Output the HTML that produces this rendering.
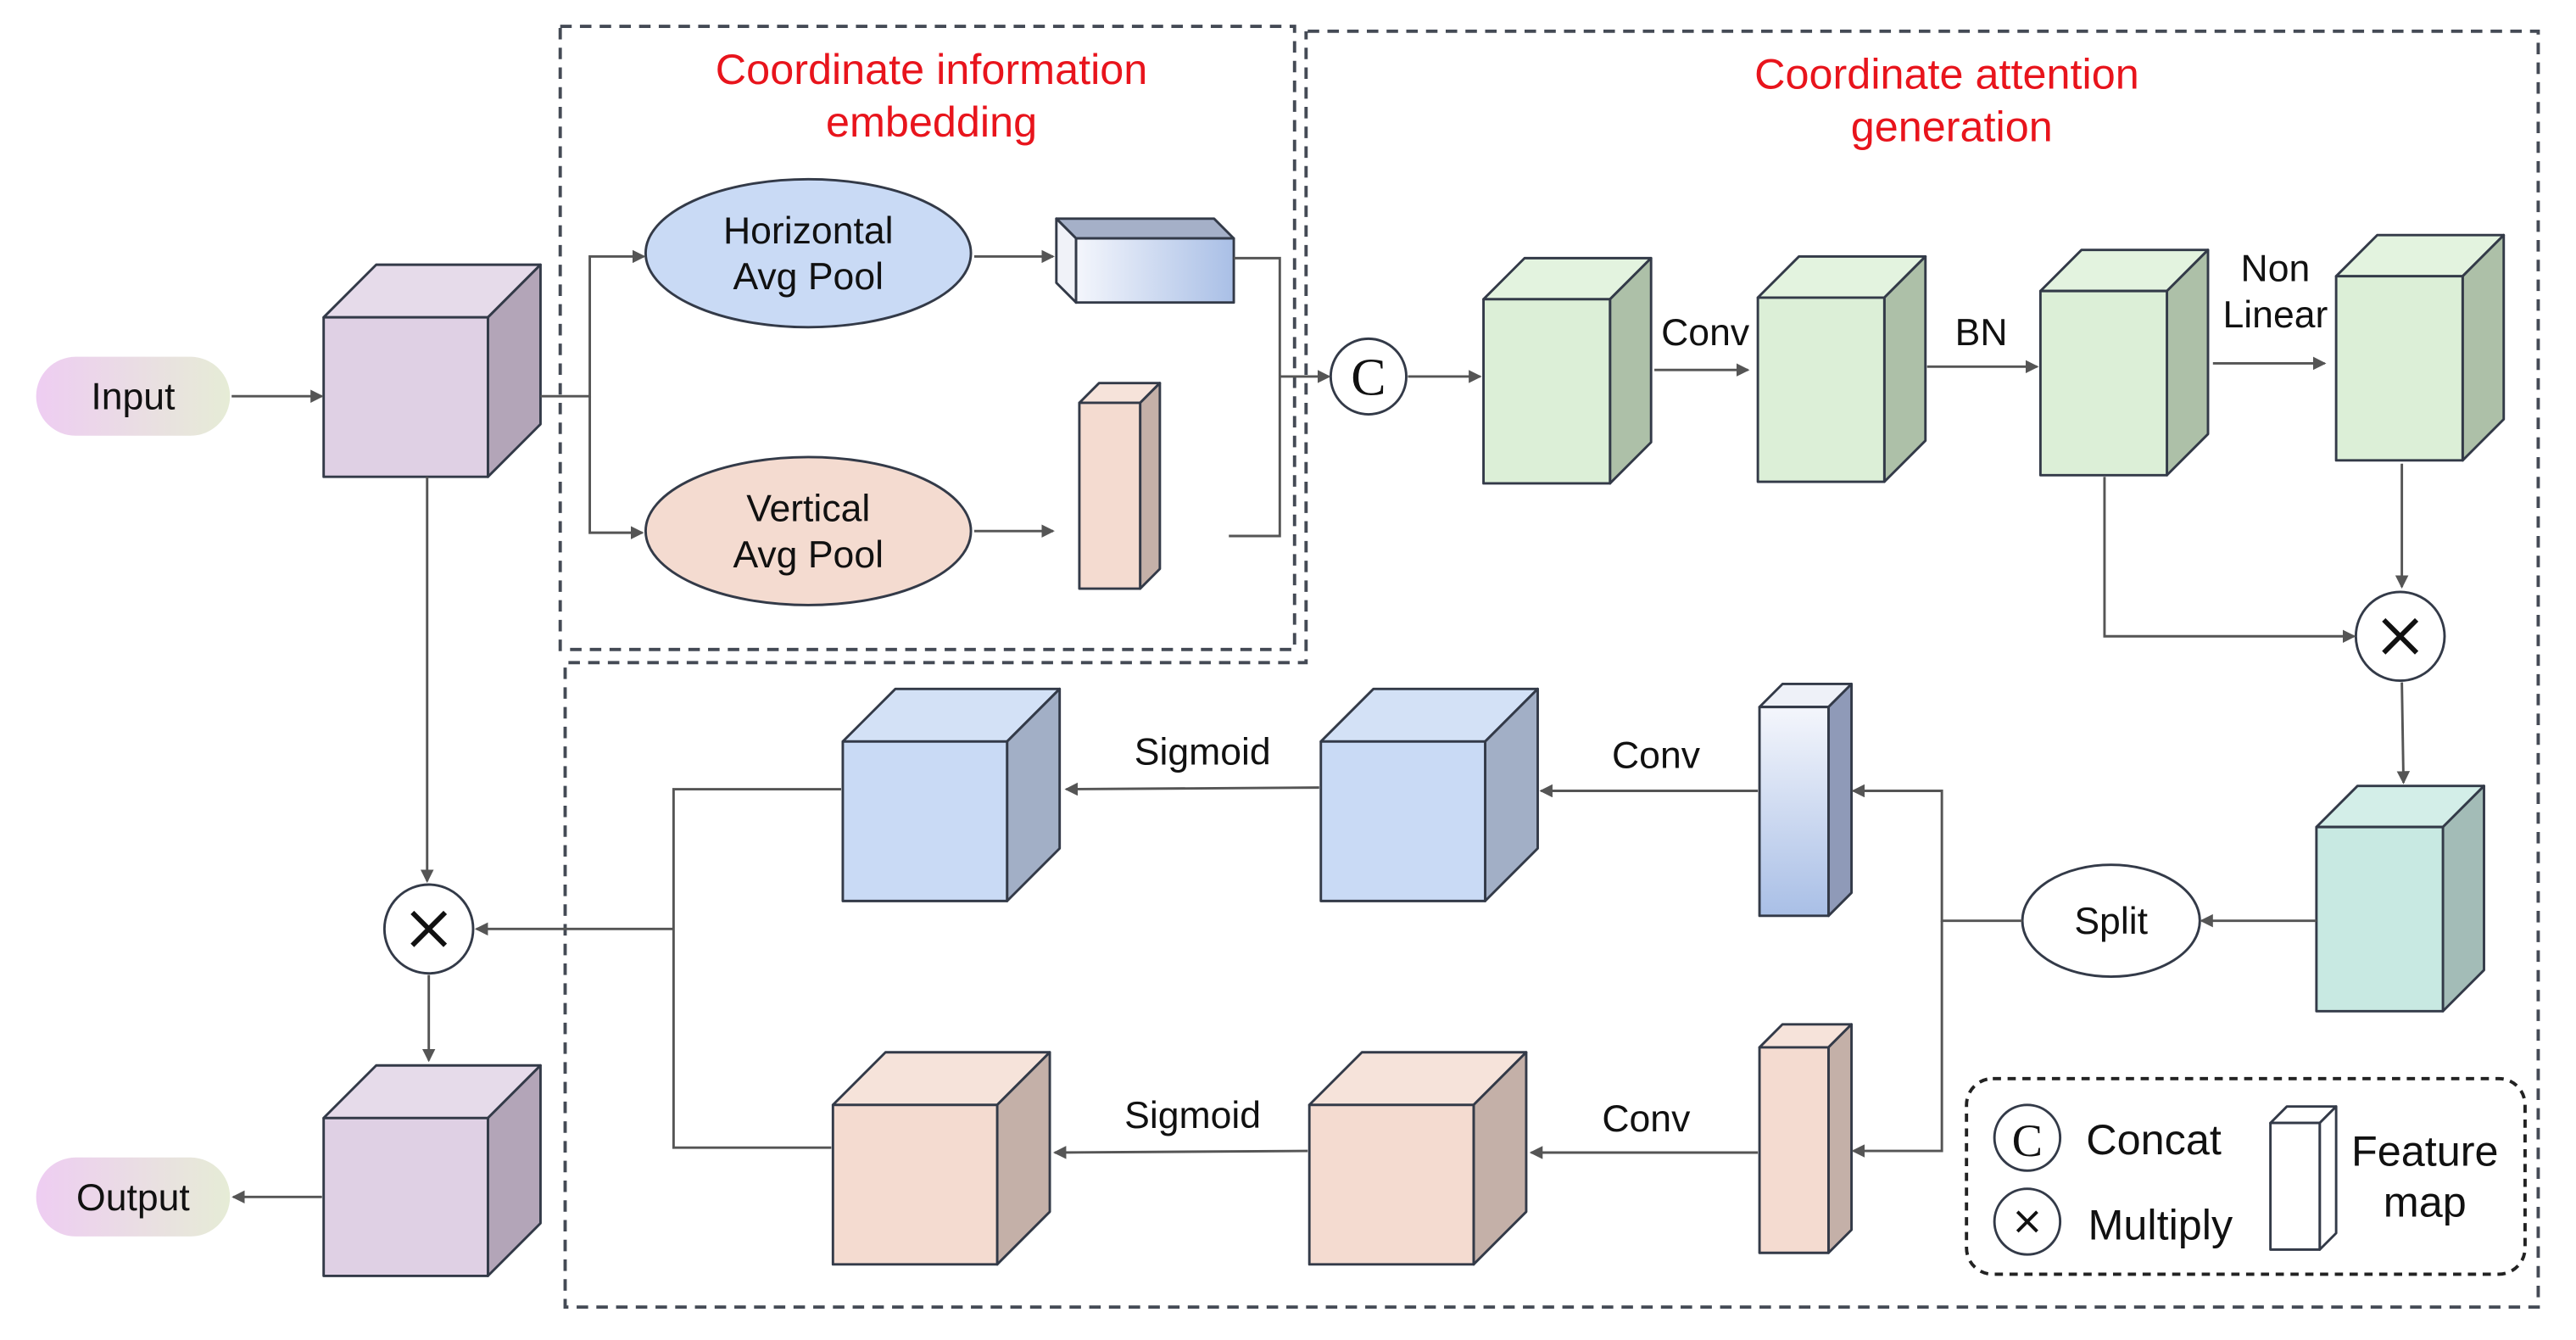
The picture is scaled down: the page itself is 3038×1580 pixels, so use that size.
<!DOCTYPE html>
<html><head><meta charset="utf-8"><style>html,body{margin:0;padding:0;background:#fff}svg{display:block}</style></head>
<body>
<svg width="3038" height="1580" viewBox="0 0 1568 815" preserveAspectRatio="none" xmlns="http://www.w3.org/2000/svg" font-family="'Liberation Sans', 'DejaVu Sans', sans-serif">
<defs>
<marker id="a" markerWidth="8" markerHeight="8" refX="7" refY="4" orient="auto" markerUnits="userSpaceOnUse"><path d="M0,0 L8,4 L0,8 z" fill="#555"/></marker>
<linearGradient id="pill" x1="0" x2="1"><stop offset="0" stop-color="#eecdf2"/><stop offset="1" stop-color="#e6ecd6"/></linearGradient>
<linearGradient id="hb" x1="0" x2="1"><stop offset="0" stop-color="#f4f6fc"/><stop offset="1" stop-color="#a9bfe6"/></linearGradient>
<linearGradient id="vb" x1="0" y1="0" x2="0" y2="1"><stop offset="0" stop-color="#f4f6fc"/><stop offset="1" stop-color="#a9bfe6"/></linearGradient>
</defs>
<g fill="none" stroke="#444a55" stroke-width="2" stroke-dasharray="7,5">
<rect x="341" y="16" width="447" height="379"/>
<path d="M796,19 H1545 V795 H344 V403 H795 V19"/>
<rect x="1197" y="656" width="340" height="119" rx="16" stroke="#222" stroke-dasharray="5,4"/>
</g>
<g font-size="26" fill="#e8141c" text-anchor="middle">
<text x="567" y="51">Coordinate information</text><text x="567" y="83">embedding</text>
<text x="1185" y="54">Coordinate attention</text><text x="1188" y="86">generation</text>
</g>
<g stroke="#333a48" stroke-width="1.5" stroke-linejoin="round">
<g fill="#dfd0e4"><path d="M197,193 L229,161 L329,161 L297,193z" fill="#e6dbea"/><path d="M297,193 L329,161 L329,258 L297,290z" fill="#b3a5b8"/><rect x="197" y="193" width="100" height="97"/></g>
<g fill="#dfd0e4"><path d="M197,680 L229,648 L329,648 L297,680z" fill="#e6dbea"/><path d="M297,680 L329,648 L329,744 L297,776z" fill="#b3a5b8"/><rect x="197" y="680" width="100" height="96"/></g>
<g fill="#dcefd7"><path d="M903,182 L928,157 L1005,157 L980,182z" fill="#e3f3df"/><path d="M980,182 L1005,157 L1005,269 L980,294z" fill="#adc0a8"/><rect x="903" y="182" width="77" height="112"/></g>
<g fill="#dcefd7"><path d="M1070,181 L1095,156 L1172,156 L1147,181z" fill="#e3f3df"/><path d="M1147,181 L1172,156 L1172,268 L1147,293z" fill="#adc0a8"/><rect x="1070" y="181" width="77" height="112"/></g>
<g fill="#dcefd7"><path d="M1242,177 L1267,152 L1344,152 L1319,177z" fill="#e3f3df"/><path d="M1319,177 L1344,152 L1344,264 L1319,289z" fill="#adc0a8"/><rect x="1242" y="177" width="77" height="112"/></g>
<g fill="#dcefd7"><path d="M1422,168 L1447,143 L1524,143 L1499,168z" fill="#e3f3df"/><path d="M1499,168 L1524,143 L1524,255 L1499,280z" fill="#adc0a8"/><rect x="1422" y="168" width="77" height="112"/></g>
<g fill="#c8e9e2"><path d="M1410,503 L1435,478 L1512,478 L1487,503z" fill="#d3eee8"/><path d="M1487,503 L1512,478 L1512,590 L1487,615z" fill="#a3bcb7"/><rect x="1410" y="503" width="77" height="112"/></g>
<g fill="#c9daf5"><path d="M513,451 L545,419 L645,419 L613,451z" fill="#d3e1f6"/><path d="M613,451 L645,419 L645,516 L613,548z" fill="#a2afc6"/><rect x="513" y="451" width="100" height="97"/></g>
<g fill="#c9daf5"><path d="M804,451 L836,419 L936,419 L904,451z" fill="#d3e1f6"/><path d="M904,451 L936,419 L936,516 L904,548z" fill="#a2afc6"/><rect x="804" y="451" width="100" height="97"/></g>
<g fill="#f4dbd0"><path d="M507,672 L539,640 L639,640 L607,672z" fill="#f6e3da"/><path d="M607,672 L639,640 L639,737 L607,769z" fill="#c4b0a8"/><rect x="507" y="672" width="100" height="97"/></g>
<g fill="#f4dbd0"><path d="M797,672 L829,640 L929,640 L897,672z" fill="#f6e3da"/><path d="M897,672 L929,640 L929,737 L897,769z" fill="#c4b0a8"/><rect x="797" y="672" width="100" height="97"/></g>
<g fill="url(#vb)"><path d="M1071,430 L1085,416 L1127,416 L1113,430z" fill="#eef1f8"/><path d="M1113,430 L1127,416 L1127,543 L1113,557z" fill="#8f9ab8"/><rect x="1071" y="430" width="42" height="127"/></g>
<g fill="#f4dbd0"><path d="M1071,637 L1085,623 L1127,623 L1113,637z" fill="#f6e3da"/><path d="M1113,637 L1127,623 L1127,748 L1113,762z" fill="#c4b0a8"/><rect x="1071" y="637" width="42" height="125"/></g>
<g fill="url(#hb)"><path d="M655,145 L643,133 L739,133 L751,145z" fill="#a5b0c8"/><path d="M655,145 L643,133 L643,172 L655,184z" fill="#f0f2f8"/><rect x="655" y="145" width="96" height="39"/></g>
<g fill="#f4dbd0"><path d="M657,245 L669,233 L706,233 L694,245z" fill="#f6e3da"/><path d="M694,245 L706,233 L706,346 L694,358z" fill="#c4b0a8"/><rect x="657" y="245" width="37" height="113"/></g>
<g fill="#fff"><path d="M1382,683 L1392,673 L1422,673 L1412,683z"/><path d="M1412,683 L1422,673 L1422,750 L1412,760z"/><rect x="1382" y="683" width="30" height="77"/></g>
<ellipse cx="492" cy="154" rx="99" ry="45" fill="#c9daf5"/>
<ellipse cx="492" cy="323" rx="99" ry="45" fill="#f4dbd0"/>
<ellipse cx="1285" cy="560" rx="54" ry="34" fill="#fff"/>
<circle cx="833" cy="229" r="23" fill="#fff"/>
<circle cx="1461" cy="387" r="27" fill="#fff"/>
<circle cx="261" cy="565" r="27" fill="#fff"/>
<circle cx="1234" cy="692" r="20" fill="#fff"/>
<circle cx="1234" cy="743" r="20" fill="#fff"/>
</g>
<rect x="22" y="217" width="118" height="48" rx="24" fill="url(#pill)"/>
<rect x="22" y="704" width="118" height="48" rx="24" fill="url(#pill)"/>
<g stroke="#555" stroke-width="1.5" fill="none" marker-end="url(#a)">
<path d="M141,241 H196"/>
<path d="M329,241 H359 V156 H392"/>
<path d="M359,241 V324 H391"/>
<path d="M593,156 H641"/>
<path d="M593,323 H641"/>
<path d="M751,157 H779 V326 H748" marker-end="none"/>
<path d="M779,229 H809"/>
<path d="M857,229 H901"/>
<path d="M1007,225 H1064"/>
<path d="M1173,223 H1240"/>
<path d="M1347,221 H1415"/>
<path d="M1462,282 L1462,357"/>
<path d="M1281,290 V387 H1433"/>
<path d="M1462,415 L1463,476"/>
<path d="M1410,560 H1340"/>
<path d="M1231,560 H1182 V481 H1128"/>
<path d="M1182,560 V700 H1128"/>
<path d="M1070,481 H938"/>
<path d="M1070,701 H932"/>
<path d="M803,479 L649,480"/>
<path d="M796,700 L642,701"/>
<path d="M512,480 H410 V698 H506" marker-end="none"/>
<path d="M410,565 H290"/>
<path d="M260,290 V536"/>
<path d="M261,593 V645"/>
<path d="M196,728 H142"/>
</g>
<g font-size="23" fill="#111" text-anchor="middle">
<text x="81" y="249">Input</text><text x="81" y="736">Output</text>
<text x="492" y="148">Horizontal</text><text x="492" y="176">Avg Pool</text>
<text x="492" y="317">Vertical</text><text x="492" y="345">Avg Pool</text>
<text x="1038" y="210">Conv</text><text x="1206" y="210">BN</text>
<text x="1385" y="171">Non</text><text x="1385" y="199">Linear</text>
<text x="732" y="465">Sigmoid</text><text x="1008" y="467">Conv</text>
<text x="726" y="686">Sigmoid</text><text x="1002" y="688">Conv</text>
<text x="1285" y="568">Split</text>
<text x="1311" y="702" font-size="26">Concat</text>
<text x="1315" y="754" font-size="26">Multiply</text>
<text x="1476" y="709" font-size="26">Feature</text><text x="1476" y="740" font-size="26">map</text>
</g>
<g font-family="'Liberation Serif', serif" text-anchor="middle" fill="#111">
<text x="833" y="240" font-size="32">C</text>
<text x="1234" y="703" font-size="28">C</text>
</g>
<g stroke="#111" stroke-width="3">
<path d="M1451,377 L1471,397 M1471,377 L1451,397"/>
<path d="M251,555 L271,575 M271,555 L251,575"/>
<path d="M1228,737 L1240,749 M1240,737 L1228,749" stroke-width="2"/>
</g>
</svg>
</body></html>
